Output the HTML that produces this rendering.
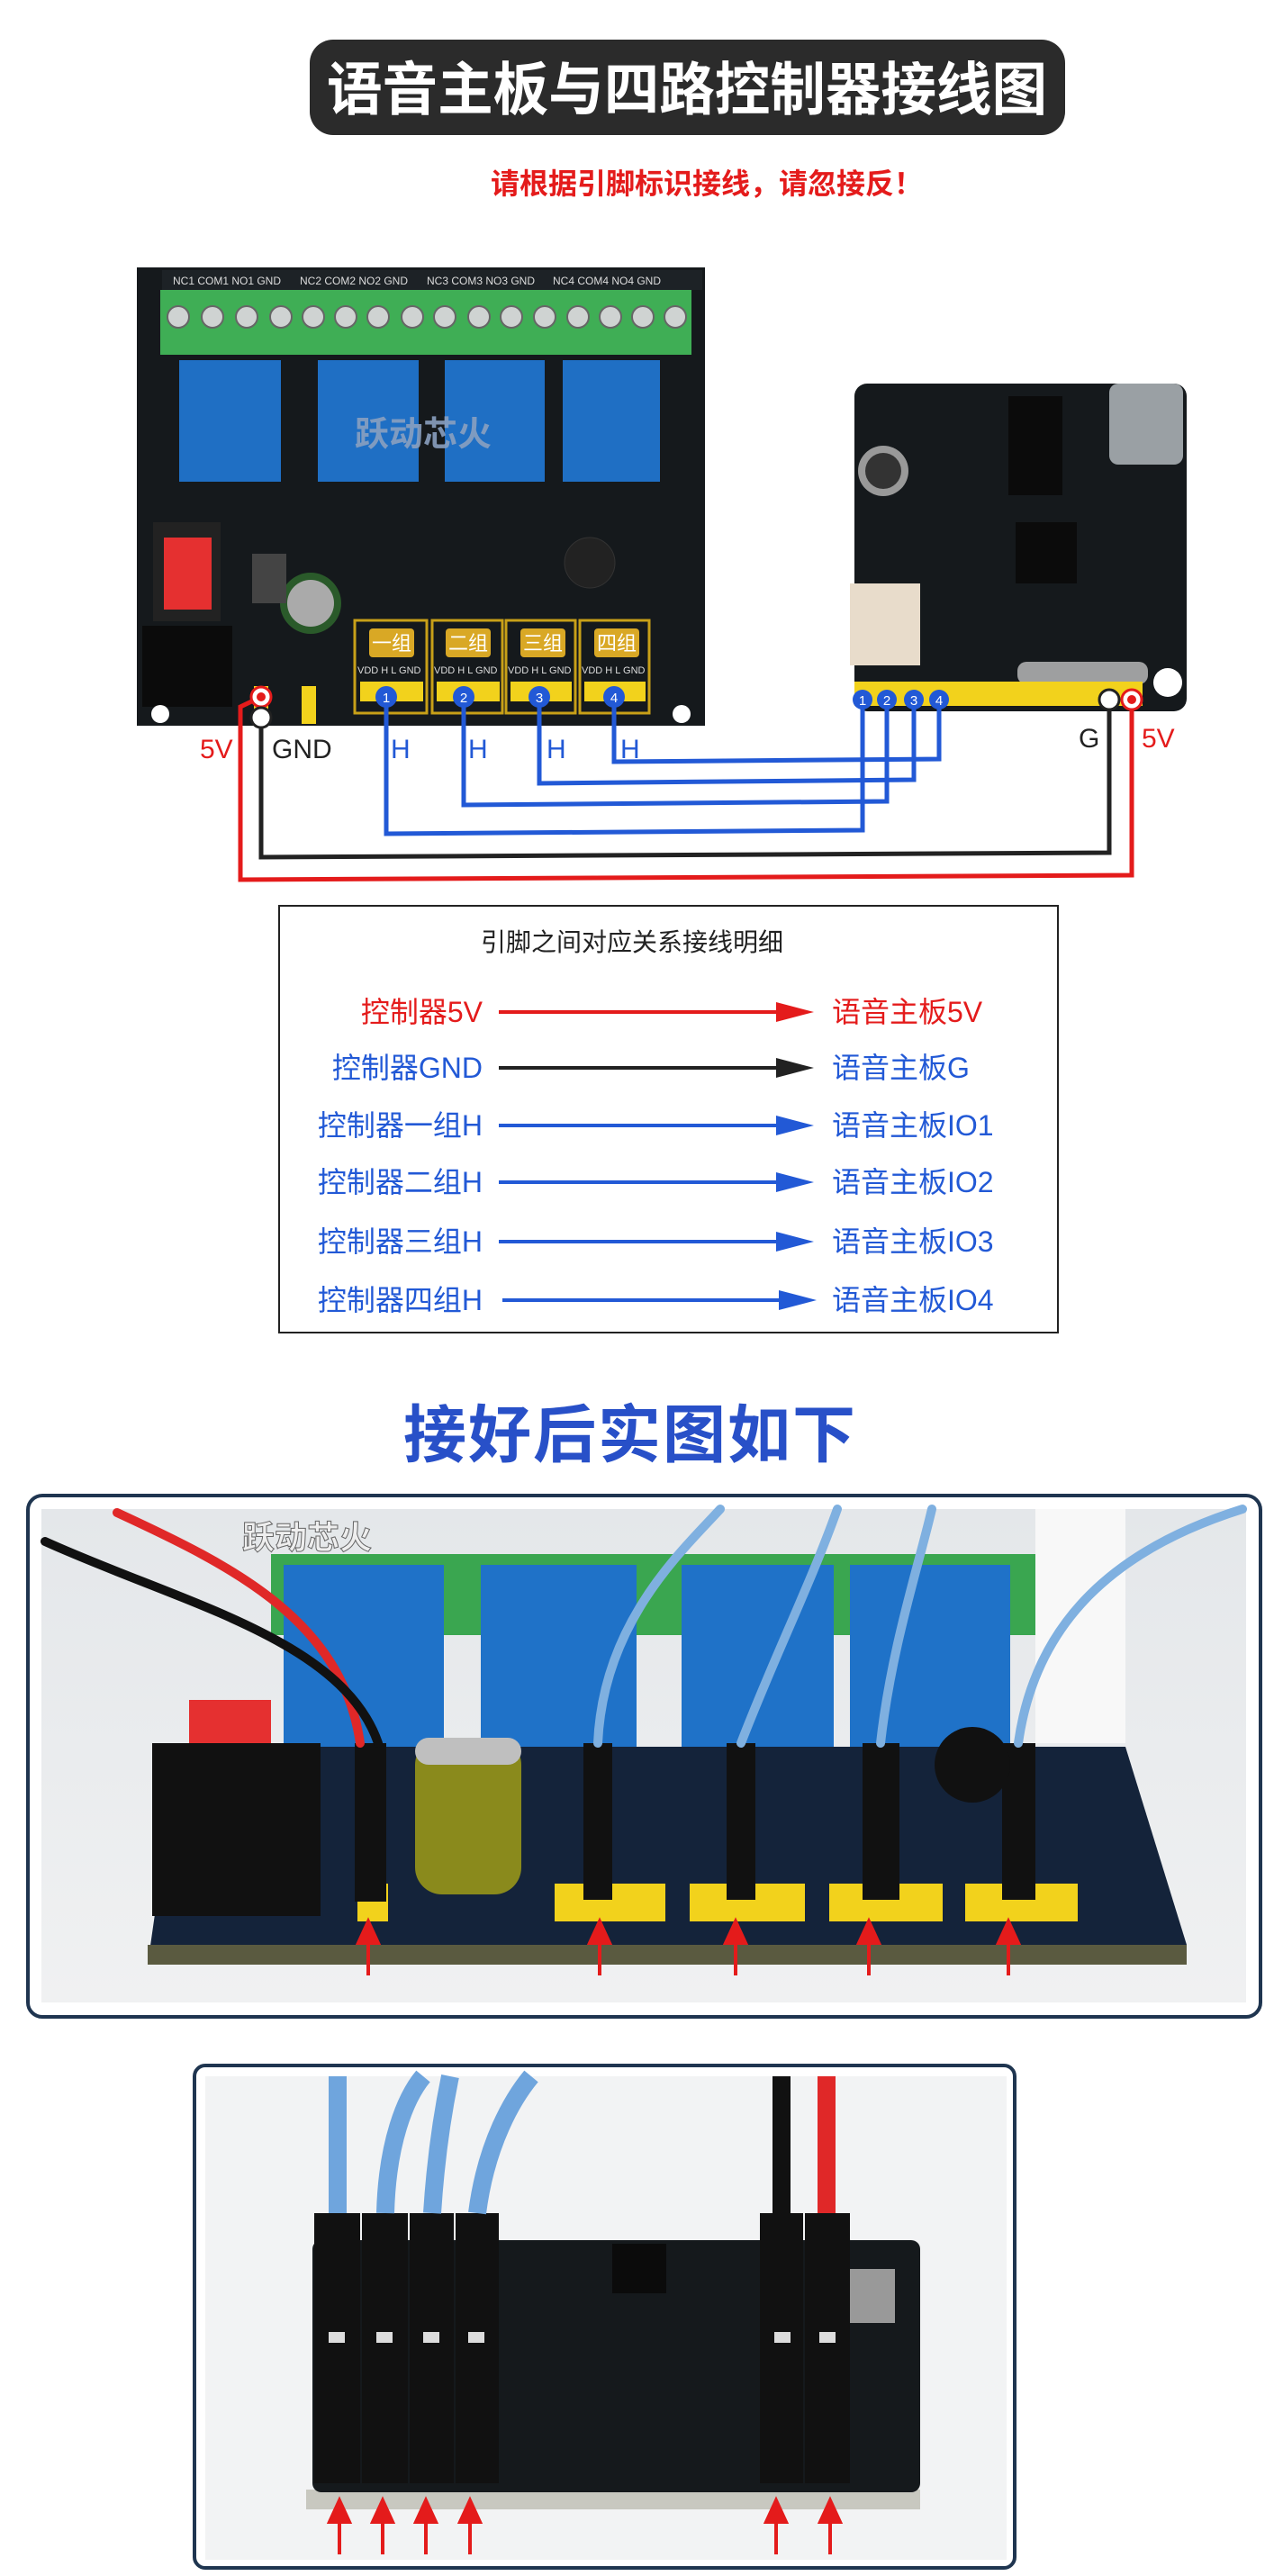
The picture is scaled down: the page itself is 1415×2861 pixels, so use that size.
<!DOCTYPE html>
<html><head><meta charset="utf-8"><style>
html,body{margin:0;padding:0;background:#fff;}
svg{display:block;}
text{font-family:"Liberation Sans","Noto Sans CJK SC",sans-serif;}
</style></head><body>
<svg width="1415" height="2861" viewBox="0 0 1415 2861" xmlns="http://www.w3.org/2000/svg">
<defs>
<linearGradient id="bg1" x1="0" y1="0" x2="0" y2="1"><stop offset="0" stop-color="#e4e7ea"/><stop offset="1" stop-color="#f0f1f2"/></linearGradient>
</defs>
<!-- Title -->
<rect x="344" y="44" width="839" height="106" rx="26" fill="#2b2b2b"/>
<text x="763" y="122" font-size="64" font-weight="bold" fill="#fff" text-anchor="middle" textLength="800" lengthAdjust="spacingAndGlyphs">语音主板与四路控制器接线图</text>
<text x="785" y="215" font-size="32" font-weight="bold" fill="#e41b1b" text-anchor="middle">请根据引脚标识接线，请忽接反！</text>

<!-- Controller board -->
<rect x="152" y="297" width="631" height="509" fill="#15191c"/>
<rect x="180" y="300" width="600" height="22" fill="#1d2226"/>
<g font-size="12" fill="#ddd">
<text x="192" y="316">NC1 COM1 NO1 GND</text><text x="333" y="316">NC2 COM2 NO2 GND</text><text x="474" y="316">NC3 COM3 NO3 GND</text><text x="614" y="316">NC4 COM4 NO4 GND</text>
</g>
<rect x="178" y="322" width="590" height="72" fill="#3fae55"/>
<g fill="#cfd3d2" stroke="#666" stroke-width="2">
<circle cx="198" cy="352" r="12"/><circle cx="236" cy="352" r="12"/><circle cx="274" cy="352" r="12"/><circle cx="312" cy="352" r="12"/><circle cx="348" cy="352" r="12"/><circle cx="384" cy="352" r="12"/><circle cx="420" cy="352" r="12"/><circle cx="458" cy="352" r="12"/><circle cx="494" cy="352" r="12"/><circle cx="532" cy="352" r="12"/><circle cx="568" cy="352" r="12"/><circle cx="605" cy="352" r="12"/><circle cx="642" cy="352" r="12"/><circle cx="678" cy="352" r="12"/><circle cx="714" cy="352" r="12"/><circle cx="750" cy="352" r="12"/>
</g>
<g fill="#1f6fc4"><rect x="199" y="400" width="113" height="135"/><rect x="353" y="400" width="112" height="135"/><rect x="494" y="400" width="111" height="135"/><rect x="625" y="400" width="108" height="135"/></g>
<text x="470" y="495" font-size="38" font-weight="bold" fill="#8aa0c0" text-anchor="middle" opacity="0.9">跃动芯火</text>
<rect x="170" y="580" width="75" height="110" fill="#222"/>
<rect x="182" y="597" width="53" height="80" fill="#e53030"/>
<rect x="158" y="695" width="100" height="90" fill="#0b0b0b"/>
<circle cx="345" cy="670" r="34" fill="#2a5a2a"/><circle cx="345" cy="670" r="26" fill="#aaa"/>
<rect x="280" y="615" width="38" height="55" fill="#444"/>
<g fill="none" stroke="#c8a018" stroke-width="3"><rect x="394" y="689" width="80" height="103"/><rect x="480" y="689" width="78" height="103"/><rect x="562" y="689" width="77" height="103"/><rect x="644" y="689" width="77" height="103"/></g>
<g fill="#d9a825"><rect x="410" y="698" width="50" height="32" rx="4"/><rect x="495" y="698" width="50" height="32" rx="4"/><rect x="578" y="698" width="50" height="32" rx="4"/><rect x="660" y="698" width="50" height="32" rx="4"/></g>
<g font-size="22" fill="#fff" text-anchor="middle"><text x="435" y="722">一组</text><text x="520" y="722">二组</text><text x="603" y="722">三组</text><text x="685" y="722">四组</text></g>
<g font-size="11" fill="#ddd"><text x="397" y="748">VDD H L GND</text><text x="482" y="748">VDD H L GND</text><text x="564" y="748">VDD H L GND</text><text x="646" y="748">VDD H L GND</text></g>
<g fill="#f2d21c"><rect x="400" y="757" width="70" height="22"/><rect x="485" y="757" width="70" height="22"/><rect x="567" y="757" width="68" height="22"/><rect x="649" y="757" width="68" height="22"/><rect x="282" y="762" width="16" height="42"/><rect x="335" y="762" width="16" height="42"/></g>
<circle cx="757" cy="793" r="10" fill="#fff"/><circle cx="178" cy="793" r="10" fill="#fff"/>
<circle cx="655" cy="625" r="28" fill="#222" stroke="#333"/>

<!-- Voice board -->
<rect x="949" y="426" width="369" height="364" rx="14" fill="#15191c"/>
<rect x="1232" y="426" width="82" height="90" rx="10" fill="#9aa0a4"/>
<circle cx="981" cy="523" r="28" fill="#999"/><circle cx="981" cy="523" r="20" fill="#333"/>
<rect x="1128" y="580" width="68" height="68" fill="#0b0b0b"/>
<rect x="1120" y="440" width="60" height="110" fill="#0b0b0b"/>
<rect x="944" y="648" width="78" height="91" fill="#e8dccb"/>
<rect x="1130" y="735" width="145" height="25" rx="10" fill="#d8d8d8" opacity="0.7"/>
<rect x="949" y="757" width="320" height="27" fill="#f2d21c"/>
<circle cx="1297" cy="758" r="16" fill="#fff"/>

<!-- Wires -->
<g fill="none" stroke-width="5">
<polyline points="290,774 267,785 267,977 1257,972 1257,777" stroke="#e41b1b"/>
<polyline points="290,797 290,952 1232,947 1232,777" stroke="#222"/>
<polyline points="429,774 429,926 958,922 958,777" stroke="#2259d6"/>
<polyline points="515,774 515,894 985,890 985,777" stroke="#2259d6"/>
<polyline points="599,774 599,870 1015,866 1015,777" stroke="#2259d6"/>
<polyline points="682,774 682,846 1043,843 1043,777" stroke="#2259d6"/>
</g>
<g stroke-width="3">
<circle cx="290" cy="774" r="11" fill="#fff" stroke="#e41b1b"/><circle cx="290" cy="774" r="5" fill="#e41b1b"/>
<circle cx="290" cy="797" r="11" fill="#fff" stroke="#222"/>
<circle cx="1232" cy="777" r="11" fill="#fff" stroke="#222"/>
<circle cx="1257" cy="777" r="11" fill="#fff" stroke="#e41b1b"/><circle cx="1257" cy="777" r="5" fill="#e41b1b"/>
</g>
<g fill="#2259d6"><circle cx="429" cy="774" r="12"/><circle cx="515" cy="774" r="12"/><circle cx="599" cy="774" r="12"/><circle cx="682" cy="774" r="12"/><circle cx="958" cy="777" r="11"/><circle cx="985" cy="777" r="11"/><circle cx="1015" cy="777" r="11"/><circle cx="1043" cy="777" r="11"/></g>
<g font-size="15" fill="#fff" text-anchor="middle"><text x="429" y="780">1</text><text x="515" y="780">2</text><text x="599" y="780">3</text><text x="682" y="780">4</text><text x="958" y="783">1</text><text x="985" y="783">2</text><text x="1015" y="783">3</text><text x="1043" y="783">4</text></g>
<g font-size="30"><text x="222" y="842" fill="#e41b1b">5V</text><text x="302" y="842" fill="#222">GND</text>
<text x="434" y="842" fill="#2259d6">H</text><text x="520" y="842" fill="#2259d6">H</text><text x="607" y="842" fill="#2259d6">H</text><text x="689" y="842" fill="#2259d6">H</text>
<text x="1198" y="830" fill="#222">G</text><text x="1268" y="830" fill="#e41b1b">5V</text></g>

<!-- Table -->
<rect x="310" y="1006" width="865" height="474" fill="#fff" stroke="#222" stroke-width="2"/>
<text x="702" y="1056" font-size="28" fill="#222" text-anchor="middle">引脚之间对应关系接线明细</text>
<g font-size="32">
<text x="536" y="1135" text-anchor="end" fill="#e41b1b">控制器5V</text><text x="924" y="1135" fill="#e41b1b">语音主板5V</text>
<text x="536" y="1197" text-anchor="end" fill="#2259d6">控制器GND</text><text x="924" y="1197" fill="#2259d6">语音主板G</text>
<text x="536" y="1261" text-anchor="end" fill="#2259d6">控制器一组H</text><text x="924" y="1261" fill="#2259d6">语音主板IO1</text>
<text x="536" y="1324" text-anchor="end" fill="#2259d6">控制器二组H</text><text x="924" y="1324" fill="#2259d6">语音主板IO2</text>
<text x="536" y="1390" text-anchor="end" fill="#2259d6">控制器三组H</text><text x="924" y="1390" fill="#2259d6">语音主板IO3</text>
<text x="536" y="1455" text-anchor="end" fill="#2259d6">控制器四组H</text><text x="924" y="1455" fill="#2259d6">语音主板IO4</text>
</g>
<g stroke-width="4">
<line x1="554" y1="1124" x2="865" y2="1124" stroke="#e41b1b"/><path d="M862,1113 L904,1124 L862,1135z" fill="#e41b1b"/>
<line x1="554" y1="1186" x2="865" y2="1186" stroke="#222"/><path d="M862,1175 L904,1186 L862,1197z" fill="#222"/>
<line x1="554" y1="1250" x2="865" y2="1250" stroke="#2259d6"/><path d="M862,1239 L904,1250 L862,1261z" fill="#2259d6"/>
<line x1="554" y1="1313" x2="865" y2="1313" stroke="#2259d6"/><path d="M862,1302 L904,1313 L862,1324z" fill="#2259d6"/>
<line x1="554" y1="1379" x2="865" y2="1379" stroke="#2259d6"/><path d="M862,1368 L904,1379 L862,1390z" fill="#2259d6"/>
<line x1="558" y1="1444" x2="868" y2="1444" stroke="#2259d6"/><path d="M865,1433 L907,1444 L865,1455z" fill="#2259d6"/>
</g>

<text x="700" y="1618" font-size="70" font-weight="bold" fill="#2850c8" text-anchor="middle" letter-spacing="2">接好后实图如下</text>

<!-- Photo 1 -->
<rect x="31" y="1661" width="1369" height="579" rx="16" fill="#fff" stroke="#1f3550" stroke-width="4"/>
<rect x="46" y="1676" width="1338" height="548" fill="url(#bg1)"/>
<rect x="1150" y="1676" width="100" height="260" fill="#f8f8f8"/>
<rect x="301" y="1726" width="849" height="90" fill="#3aa650"/>
<g fill="#1f72c8"><rect x="315" y="1738" width="178" height="222"/><rect x="534" y="1738" width="173" height="222"/><rect x="757" y="1738" width="169" height="222"/><rect x="944" y="1738" width="178" height="222"/></g>
<path d="M190,2000 L260,1940 L1250,1940 L1318,2160 L1318,2180 L164,2182 z" fill="#14233a"/>
<rect x="164" y="2160" width="1154" height="22" fill="#5a5a40"/>
<rect x="169" y="1936" width="187" height="192" fill="#111"/>
<rect x="210" y="1888" width="91" height="48" fill="#e53030"/>
<rect x="461" y="1930" width="118" height="174" rx="30" fill="#8a8a1c"/>
<rect x="461" y="1930" width="118" height="30" rx="15" fill="#bfbfbf"/>
<g fill="#f2d21c"><rect x="397" y="2092" width="34" height="42"/><rect x="616" y="2092" width="123" height="42"/><rect x="766" y="2092" width="128" height="42"/><rect x="921" y="2092" width="126" height="42"/><rect x="1072" y="2092" width="125" height="42"/></g>
<g fill="#111"><rect x="394" y="1936" width="35" height="176"/><rect x="648" y="1936" width="32" height="174"/><rect x="807" y="1936" width="32" height="174"/><rect x="958" y="1936" width="41" height="174"/><rect x="1113" y="1936" width="37" height="174"/><circle cx="1080" cy="1960" r="42"/></g>
<g fill="none" stroke-width="10" stroke-linecap="round">
<path d="M130,1680 C260,1740 380,1800 400,1936" stroke="#e02828"/>
<path d="M50,1712 C200,1780 380,1820 420,1936" stroke="#111"/>
<path d="M664,1936 C670,1800 760,1720 800,1676" stroke="#7fb0e0"/>
<path d="M823,1936 C860,1840 900,1760 930,1676" stroke="#7fb0e0"/>
<path d="M978,1936 C990,1830 1020,1740 1035,1676" stroke="#7fb0e0"/>
<path d="M1131,1936 C1150,1800 1240,1720 1380,1676" stroke="#7fb0e0"/>
</g>
<text x="269" y="1720" font-size="36" font-weight="bold" fill="#eee" stroke="#666" stroke-width="1">跃动芯火</text>
<g stroke="#e41b1b" stroke-width="4" fill="#e41b1b">
<line x1="409" y1="2145" x2="409" y2="2194"/><path d="M398,2158 L409,2134 L420,2158z"/>
<line x1="666" y1="2145" x2="666" y2="2194"/><path d="M655,2158 L666,2134 L677,2158z"/>
<line x1="817" y1="2145" x2="817" y2="2194"/><path d="M806,2158 L817,2134 L828,2158z"/>
<line x1="965" y1="2145" x2="965" y2="2194"/><path d="M954,2158 L965,2134 L976,2158z"/>
<line x1="1120" y1="2145" x2="1120" y2="2194"/><path d="M1109,2158 L1120,2134 L1131,2158z"/>
</g>

<!-- Photo 2 -->
<rect x="216" y="2294" width="911" height="558" rx="12" fill="#fff" stroke="#1f3550" stroke-width="4"/>
<rect x="228" y="2306" width="890" height="537" fill="#f2f3f4"/>
<rect x="340" y="2765" width="682" height="22" fill="#c8c8c0"/>
<rect x="347" y="2488" width="675" height="280" rx="10" fill="#15191c"/>
<rect x="944" y="2520" width="50" height="60" fill="#999"/>
<rect x="680" y="2492" width="60" height="55" fill="#0b0b0b"/>
<g fill="#111"><rect x="349" y="2458" width="51" height="300"/><rect x="402" y="2458" width="51" height="300"/><rect x="455" y="2458" width="49" height="300"/><rect x="506" y="2458" width="48" height="300"/><rect x="844" y="2458" width="48" height="300"/><rect x="894" y="2458" width="50" height="300"/></g>
<g fill="#ddd"><rect x="365" y="2590" width="18" height="12"/><rect x="418" y="2590" width="18" height="12"/><rect x="470" y="2590" width="18" height="12"/><rect x="520" y="2590" width="18" height="12"/><rect x="860" y="2590" width="18" height="12"/><rect x="910" y="2590" width="18" height="12"/></g>
<g fill="none" stroke-width="20">
<path d="M375,2458 L375,2306" stroke="#6fa5dd"/>
<path d="M428,2458 C430,2380 450,2330 470,2306" stroke="#6fa5dd"/>
<path d="M480,2458 C485,2380 495,2330 500,2306" stroke="#6fa5dd"/>
<path d="M530,2458 C540,2380 570,2330 590,2306" stroke="#6fa5dd"/>
<path d="M868,2458 L868,2306" stroke="#111"/>
<path d="M918,2458 L918,2306" stroke="#e02828"/>
</g>
<g stroke="#e41b1b" stroke-width="4" fill="#e41b1b">
<line x1="377" y1="2790" x2="377" y2="2837"/><path d="M366,2801 L377,2777 L388,2801z"/>
<line x1="425" y1="2790" x2="425" y2="2837"/><path d="M414,2801 L425,2777 L436,2801z"/>
<line x1="473" y1="2790" x2="473" y2="2837"/><path d="M462,2801 L473,2777 L484,2801z"/>
<line x1="522" y1="2790" x2="522" y2="2837"/><path d="M511,2801 L522,2777 L533,2801z"/>
<line x1="862" y1="2790" x2="862" y2="2837"/><path d="M851,2801 L862,2777 L873,2801z"/>
<line x1="922" y1="2790" x2="922" y2="2837"/><path d="M911,2801 L922,2777 L933,2801z"/>
</g>
</svg>
</body></html>
